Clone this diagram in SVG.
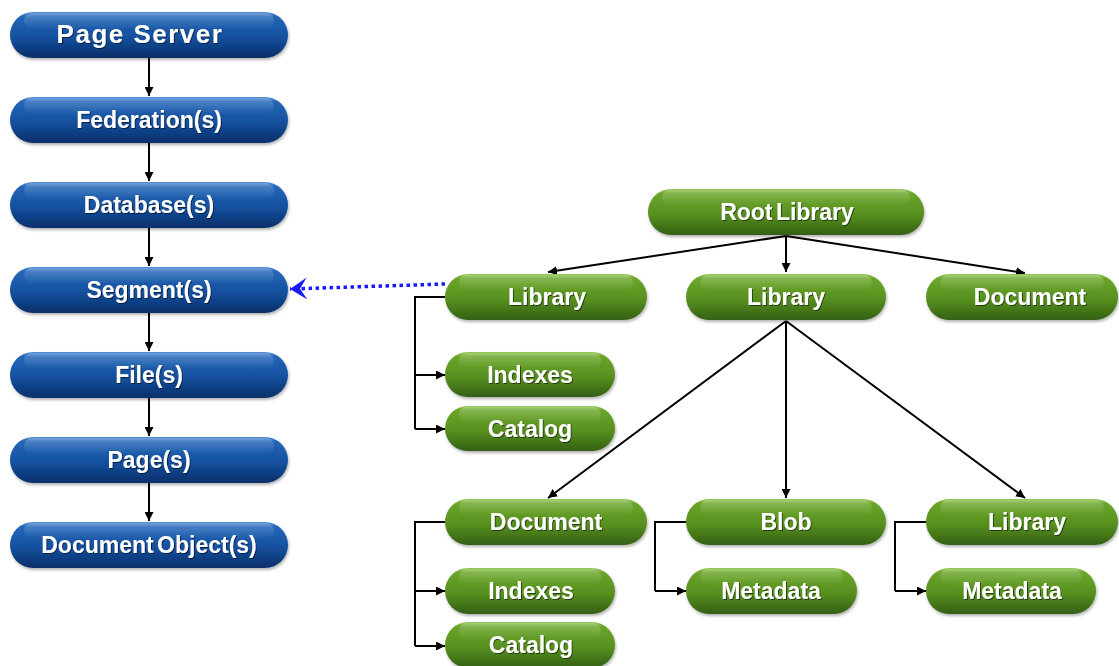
<svg xmlns="http://www.w3.org/2000/svg" width="1119" height="666" viewBox="0 0 1119 666">
<defs>
<linearGradient id="gBlue" x1="0" y1="0" x2="0" y2="1">
<stop offset="0" stop-color="#5590d6"/>
<stop offset="0.1" stop-color="#2466b8"/>
<stop offset="0.55" stop-color="#14509e"/>
<stop offset="1" stop-color="#092f6a"/>
</linearGradient>
<linearGradient id="gGreen" x1="0" y1="0" x2="0" y2="1">
<stop offset="0" stop-color="#98c85c"/>
<stop offset="0.1" stop-color="#6aa52a"/>
<stop offset="0.55" stop-color="#57901f"/>
<stop offset="1" stop-color="#345f12"/>
</linearGradient>
<linearGradient id="gHi" x1="0" y1="0" x2="0" y2="1">
<stop offset="0" stop-color="#ffffff" stop-opacity="0.22"/>
<stop offset="1" stop-color="#ffffff" stop-opacity="0"/>
</linearGradient>
<filter id="sh" x="-10%" y="-30%" width="120%" height="170%">
<feDropShadow dx="1" dy="2" stdDeviation="1.5" flood-color="#000" flood-opacity="0.3"/>
</filter>
<filter id="tsh" x="-10%" y="-30%" width="120%" height="170%">
<feDropShadow dx="1" dy="1" stdDeviation="0.7" flood-color="#000" flood-opacity="0.55"/>
</filter>
<marker id="ah" viewBox="0 0 10 10" refX="10" refY="5" markerWidth="9" markerHeight="9" markerUnits="userSpaceOnUse" orient="auto">
<path d="M0,0 L10,5 L0,10 Z" fill="#000"/>
</marker>
<marker id="bah" viewBox="0 0 18 24" refX="17" refY="12" markerWidth="18" markerHeight="24" markerUnits="userSpaceOnUse" orient="auto">
<path d="M0,1 L17,12 L0,23 L7,12 Z" fill="#1a1aff"/>
</marker>
</defs>
<style>
.b{fill:url(#gBlue);filter:url(#sh)}
.g{fill:url(#gGreen);filter:url(#sh)}
.hi{fill:url(#gHi)}
text{font-family:"Liberation Sans",Arial,sans-serif;font-weight:bold;fill:#fff;text-anchor:middle;filter:url(#tsh)}
.tb{font-size:23px}
.tg{font-size:23px}
.c{stroke:#000;stroke-width:2;fill:none}
.ca{stroke:#000;stroke-width:2;fill:none;marker-end:url(#ah)}
</style>
<rect width="1119" height="666" fill="#fff"/>

<g id="connectors">
<line class="ca" x1="149" y1="58" x2="149" y2="96"/>
<line class="ca" x1="149" y1="143" x2="149" y2="181"/>
<line class="ca" x1="149" y1="228" x2="149" y2="266"/>
<line class="ca" x1="149" y1="313" x2="149" y2="351"/>
<line class="ca" x1="149" y1="398" x2="149" y2="436"/>
<line class="ca" x1="149" y1="483" x2="149" y2="521"/>

<line class="ca" x1="786" y1="236" x2="548" y2="272"/>
<line class="ca" x1="786" y1="236" x2="786" y2="272"/>
<line class="ca" x1="786" y1="236" x2="1025" y2="273"/>

<line class="ca" x1="786" y1="321" x2="548" y2="498"/>
<line class="ca" x1="786" y1="321" x2="786" y2="498"/>
<line class="ca" x1="786" y1="321" x2="1025" y2="498"/>

<path class="c" d="M445,297 H415 V429"/>
<line class="ca" x1="415" y1="375" x2="445" y2="375"/>
<line class="ca" x1="415" y1="429" x2="445" y2="429"/>

<path class="c" d="M445,522 H415 V646"/>
<line class="ca" x1="415" y1="591" x2="445" y2="591"/>
<line class="ca" x1="415" y1="646" x2="445" y2="646"/>

<path class="c" d="M686,522 H655 V591"/>
<line class="ca" x1="655" y1="591" x2="686" y2="591"/>

<path class="c" d="M926,522 H895 V591"/>
<line class="ca" x1="895" y1="591" x2="926" y2="591"/>

<line x1="445" y1="284" x2="290" y2="289" stroke="#1a1aff" stroke-width="3.5" stroke-dasharray="3.5 3.5" marker-end="url(#bah)"/>
</g>

<g id="n-pageserver"><rect class="b" x="10" y="12" width="278" height="46" rx="23"/><rect class="hi" x="24" y="13" width="250" height="16" rx="8"/><text x="140" y="43" style="font-size:26px;letter-spacing:1.5px">Page Server</text></g>
<g id="n-federation"><rect class="b" x="10" y="97" width="278" height="46" rx="23"/><rect class="hi" x="24" y="98" width="250" height="16" rx="8"/><text class="tb" x="149" y="128">Federation(s)</text></g>
<g id="n-database"><rect class="b" x="10" y="182" width="278" height="46" rx="23"/><rect class="hi" x="24" y="183" width="250" height="16" rx="8"/><text class="tb" x="149" y="213">Database(s)</text></g>
<g id="n-segment"><rect class="b" x="10" y="267" width="278" height="46" rx="23"/><rect class="hi" x="24" y="268" width="250" height="16" rx="8"/><text class="tb" x="149" y="298">Segment(s)</text></g>
<g id="n-file"><rect class="b" x="10" y="352" width="278" height="46" rx="23"/><rect class="hi" x="24" y="353" width="250" height="16" rx="8"/><text class="tb" x="149" y="383">File(s)</text></g>
<g id="n-page"><rect class="b" x="10" y="437" width="278" height="46" rx="23"/><rect class="hi" x="24" y="438" width="250" height="16" rx="8"/><text class="tb" x="149" y="468">Page(s)</text></g>
<g id="n-docobject"><rect class="b" x="10" y="522" width="278" height="46" rx="23"/><rect class="hi" x="24" y="523" width="250" height="16" rx="8"/><text class="tb" x="149" y="553" style="word-spacing:-3px">Document Object(s)</text></g>

<g id="n-rootlibrary"><rect class="g" x="648" y="189" width="276" height="46" rx="23"/><rect class="hi" x="662" y="190" width="248" height="16" rx="8"/><text class="tg" x="787" y="220" style="word-spacing:-3px">Root Library</text></g>
<g id="n-library1"><rect class="g" x="445" y="274" width="202" height="46" rx="23"/><rect class="hi" x="459" y="275" width="174" height="16" rx="8"/><text class="tg" x="547" y="305">Library</text></g>
<g id="n-library2"><rect class="g" x="686" y="274" width="200" height="46" rx="23"/><rect class="hi" x="700" y="275" width="172" height="16" rx="8"/><text class="tg" x="786" y="305">Library</text></g>
<g id="n-document1"><rect class="g" x="926" y="274" width="192" height="46" rx="23"/><rect class="hi" x="940" y="275" width="164" height="16" rx="8"/><text class="tg" x="1030" y="305">Document</text></g>
<g id="n-indexes1"><rect class="g" x="445" y="352" width="170" height="45" rx="22.5"/><rect class="hi" x="459" y="353" width="142" height="16" rx="8"/><text class="tg" x="530" y="383">Indexes</text></g>
<g id="n-catalog1"><rect class="g" x="445" y="406" width="170" height="45" rx="22.5"/><rect class="hi" x="459" y="407" width="142" height="16" rx="8"/><text class="tg" x="530" y="437">Catalog</text></g>
<g id="n-document2"><rect class="g" x="445" y="499" width="202" height="46" rx="23"/><rect class="hi" x="459" y="500" width="174" height="16" rx="8"/><text class="tg" x="546" y="530">Document</text></g>
<g id="n-blob"><rect class="g" x="686" y="499" width="200" height="46" rx="23"/><rect class="hi" x="700" y="500" width="172" height="16" rx="8"/><text class="tg" x="786" y="530">Blob</text></g>
<g id="n-library3"><rect class="g" x="926" y="499" width="192" height="46" rx="23"/><rect class="hi" x="940" y="500" width="164" height="16" rx="8"/><text class="tg" x="1027" y="530">Library</text></g>
<g id="n-indexes2"><rect class="g" x="445" y="568" width="170" height="46" rx="23"/><rect class="hi" x="459" y="569" width="142" height="16" rx="8"/><text class="tg" x="531" y="599">Indexes</text></g>
<g id="n-catalog2"><rect class="g" x="445" y="622" width="170" height="46" rx="23"/><rect class="hi" x="459" y="623" width="142" height="16" rx="8"/><text class="tg" x="531" y="653">Catalog</text></g>
<g id="n-metadata1"><rect class="g" x="686" y="568" width="171" height="46" rx="23"/><rect class="hi" x="700" y="569" width="143" height="16" rx="8"/><text class="tg" x="771" y="599">Metadata</text></g>
<g id="n-metadata2"><rect class="g" x="926" y="568" width="170" height="46" rx="23"/><rect class="hi" x="940" y="569" width="142" height="16" rx="8"/><text class="tg" x="1012" y="599">Metadata</text></g>
</svg>
